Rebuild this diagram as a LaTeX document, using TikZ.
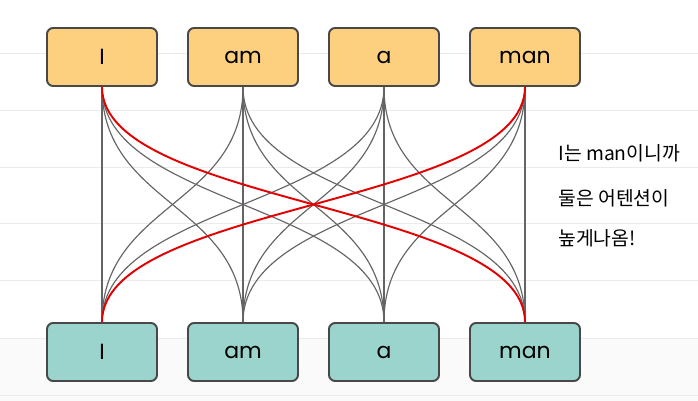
\documentclass[tikz,border=0pt]{standalone}
\usepackage{fontspec}
\setmainfont{Poppins}
\newfontfamily\krfont{Noto Sans CJK KR}
\usetikzlibrary{calc}

\definecolor{tokyellow}{RGB}{253,208,128}
\definecolor{tokteal}{RGB}{154,212,204}
\definecolor{boxedge}{RGB}{72,72,72}
\definecolor{wiregray}{RGB}{100,100,100}
\definecolor{hotred}{RGB}{228,0,0}
\definecolor{ruleline}{RGB}{235,235,235}

\tikzset{
    tokbox/.style={draw=boxedge, line width=1.1pt, rounded corners=3.5pt, minimum width=2.2cm, minimum height=1.16cm, inner sep=0pt, font=\fontsize{12.5}{13}\selectfont},
    topbox/.style={tokbox, fill=tokyellow},
    botbox/.style={tokbox, fill=tokteal},
    wire/.style={draw=wiregray, line width=0.65pt},
    hotwire/.style={draw=hotred, line width=1.1pt},
    note/.style={anchor=west, inner sep=0pt, font=\krfont\fontsize{11}{12}\selectfont}
}

\begin{document}
\begin{tikzpicture}[scale=1]

    % paper
    \useasboundingbox (0, 0) rectangle (13.96, 8.02);
    \fill[white] (0, 0) rectangle (13.96, 8.02);
    \fill[gray!4] (0, 0) rectangle (13.96, 1.26);
    \draw[ruleline, thin] (0, 6.96) -- (13.96, 6.96);
    \draw[ruleline, thin] (0, 5.82) -- (13.96, 5.82);
    \draw[ruleline, thin] (0, 4.68) -- (13.96, 4.68);
    \draw[ruleline, thin] (0, 3.56) -- (13.96, 3.56);
    \draw[ruleline, thin] (0, 2.42) -- (13.96, 2.42);
    \draw[ruleline, thin] (0, 1.26) -- (13.96, 1.26);
    \draw[ruleline, thin] (0, 0.12) -- (13.96, 0.12);

    % tokens
    \node [topbox] (tI) at (2.04, 6.88) {I};
    \node [topbox] (tam) at (4.86, 6.88) {am};
    \node [topbox] (ta) at (7.68, 6.88) {a};
    \node [topbox] (tman) at (10.5, 6.88) {man};

    \node [botbox] (bI) at (2.04, 0.98) {I};
    \node [botbox] (bam) at (4.86, 0.98) {am};
    \node [botbox] (ba) at (7.68, 0.98) {a};
    \node [botbox] (bman) at (10.5, 0.98) {man};

    % attention wires
    \draw[wire] (tI.south) -- (bI.north);
    \draw[wire] (tI.south) .. controls +(0, -2.37) and +(0, 2.37) .. (bam.north);
    \draw[wire] (tI.south) .. controls +(0, -2.37) and +(0, 2.37) .. (ba.north);

    \draw[wire] (tam.south) .. controls +(0, -2.37) and +(0, 2.37) .. (bI.north);
    \draw[wire] (tam.south) -- (bam.north);
    \draw[wire] (tam.south) .. controls +(0, -2.37) and +(0, 2.37) .. (ba.north);
    \draw[wire] (tam.south) .. controls +(0, -2.37) and +(0, 2.37) .. (bman.north);

    \draw[wire] (ta.south) .. controls +(0, -2.37) and +(0, 2.37) .. (bI.north);
    \draw[wire] (ta.south) .. controls +(0, -2.37) and +(0, 2.37) .. (bam.north);
    \draw[wire] (ta.south) -- (ba.north);
    \draw[wire] (ta.south) .. controls +(0, -2.37) and +(0, 2.37) .. (bman.north);

    \draw[wire] (tman.south) .. controls +(0, -2.37) and +(0, 2.37) .. (bam.north);
    \draw[wire] (tman.south) .. controls +(0, -2.37) and +(0, 2.37) .. (ba.north);
    \draw[wire] (tman.south) -- (bman.north);

    \draw[hotwire] (tI.south) .. controls +(0, -2.37) and +(0, 2.37) .. (bman.north);
    \draw[hotwire] (tman.south) .. controls +(0, -2.37) and +(0, 2.37) .. (bI.north);

    % handwritten remark
    \node [note] (n1) at (11.16, 4.96) {I는 man이니까};
    \node [note] (n2) at (11.16, 4.06) {둘은 어텐션이};
    \node [note] (n3) at (11.16, 3.26) {높게나옴!};

\end{tikzpicture}
\end{document}
